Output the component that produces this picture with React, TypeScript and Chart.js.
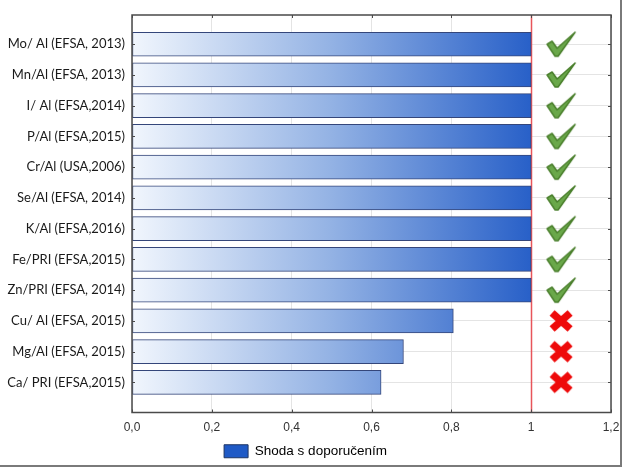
import React, { useEffect, useRef } from "react";
import { Chart, registerables } from "chart.js";

Chart.register(...registerables);

const categories = [
  "Mo/ Al (EFSA, 2013)",
  "Mn/Al (EFSA, 2013)",
  "I/ Al (EFSA,2014)",
  "P/Al (EFSA,2015)",
  "Cr/Al (USA,2006)",
  "Se/Al (EFSA, 2014)",
  "K/Al (EFSA,2016)",
  "Fe/PRI (EFSA,2015)",
  "Zn/PRI (EFSA, 2014)",
  "Cu/ Al (EFSA, 2015)",
  "Mg/Al (EFSA, 2015)",
  "Ca/ PRI (EFSA,2015)",
];
const values = [1, 1, 1, 1, 1, 1, 1, 1, 1, 0.805, 0.68, 0.624];
const statuses = ["ok", "ok", "ok", "ok", "ok", "ok", "ok", "ok", "ok", "no", "no", "no"];
const xTickLabels = ["0,0", "0,2", "0,4", "0,6", "0,8", "1", "1,2"];
const legendLabel = "Shoda s doporučením";
const referenceValue = 1;
const markValue = 1.075;

function makeCheck(): HTMLCanvasElement {
  const c = document.createElement("canvas");
  c.width = 34;
  c.height = 28;
  const g = c.getContext("2d")!;
  g.lineJoin = "round";
  const shape = () => {
    g.beginPath();
    g.moveTo(3, 14);
    g.lineTo(8, 11);
    g.lineTo(13, 18);
    g.lineTo(31, 2);
    g.lineTo(14, 26);
    g.lineTo(11, 26);
    g.closePath();
  };
  shape();
  g.fillStyle = "#6aa84a";
  g.fill();
  g.strokeStyle = "#4a7f2c";
  g.lineWidth = 1.5;
  g.stroke();
  return c;
}

function makeCross(): HTMLCanvasElement {
  const c = document.createElement("canvas");
  c.width = 26;
  c.height = 24;
  const g = c.getContext("2d")!;
  g.lineCap = "butt";
  g.strokeStyle = "#ee0a0a";
  g.lineWidth = 7.5;
  g.beginPath();
  g.moveTo(4, 4);
  g.lineTo(22, 20);
  g.moveTo(22, 4);
  g.lineTo(4, 20);
  g.stroke();
  return c;
}

const framePlugin = {
  id: "framePlugin",
  beforeDatasetsDraw(chart: any) {
    const { ctx, chartArea, scales } = chart;
    const x = Math.round(scales.x.getPixelForValue(referenceValue)) + 0.5;
    ctx.save();
    ctx.strokeStyle = "#e8555a";
    ctx.lineWidth = 1.5;
    ctx.beginPath();
    ctx.moveTo(x, chartArea.top);
    ctx.lineTo(x, chartArea.bottom);
    ctx.stroke();
    ctx.restore();
  },
  afterDraw(chart: any) {
    const { ctx, chartArea, scales } = chart;
    const { left, right, top, bottom } = chartArea;
    ctx.save();
    ctx.strokeStyle = "#4a4a4a";
    ctx.lineWidth = 1.5;
    ctx.strokeRect(left, top, right - left, bottom - top);
    ctx.lineWidth = 1;
    ctx.beginPath();
    scales.x.ticks.forEach((t: any) => {
      const px = Math.round(scales.x.getPixelForValue(t.value)) + 0.5;
      ctx.moveTo(px, top);
      ctx.lineTo(px, top + 3);
      ctx.moveTo(px, bottom);
      ctx.lineTo(px, bottom - 3);
    });
    scales.y.ticks.forEach((t: any) => {
      const py = Math.round(scales.y.getPixelForValue(t.value)) + 0.5;
      ctx.moveTo(left, py);
      ctx.lineTo(left + 3, py);
      ctx.moveTo(right, py);
      ctx.lineTo(right - 3, py);
    });
    ctx.stroke();
    ctx.fillStyle = "#7a7a7a";
    ctx.fillRect(620, 0, 2, 467);
    ctx.fillRect(0, 465, 622, 2);
    ctx.restore();
  },
};

export default function App() {
  const ref = useRef<HTMLCanvasElement | null>(null);
  useEffect(() => {
    const check = makeCheck();
    const cross = makeCross();
    const chart = new Chart(ref.current!, {
      type: "bar",
      data: {
        datasets: [
          {
            type: "bar",
            label: legendLabel,
            data: values.map((v, i) => ({ x: v, y: i })),
            barThickness: 24,
            borderWidth: 1,
            borderColor: "#34467a",
            borderSkipped: false,
            backgroundColor: (ctx: any) => {
              const chart = ctx.chart;
              const { chartArea, scales } = chart;
              if (!chartArea) return "#2a62c8";
              const x0 = scales.x.getPixelForValue(0);
              const x1 = scales.x.getPixelForValue(referenceValue);
              const g = chart.ctx.createLinearGradient(x0, 0, x1, 0);
              g.addColorStop(0, "#f1f6fd");
              g.addColorStop(0.5, "#93b2e4");
              g.addColorStop(1, "#2860c8");
              return g;
            },
          } as any,
          {
            type: "scatter",
            label: "status",
            data: statuses.map((_, i) => ({ x: markValue, y: i })),
            pointStyle: statuses.map((s) => (s === "ok" ? check : cross)),
            pointRadius: 12,
          } as any,
        ],
      },
      options: {
        animation: false,
        responsive: false,
        indexAxis: "y",
        layout: { padding: { top: 15, left: 0, right: 14, bottom: 0 } },
        scales: {
          x: {
            type: "linear",
            min: 0,
            max: 1.2,
            offset: false,
            border: { display: false },
            grid: { color: "#e4e4e4", drawTicks: false, offset: false },
            ticks: {
              stepSize: 0.2,
              padding: 8,
              color: "#333",
              font: { family: "Liberation Sans", size: 12 },
              callback: (v: any) => xTickLabels[Math.round(Number(v) / 0.2)],
            },
            afterFit: (s: any) => {
              s.height = 24;
              s.paddingLeft = 0;
              s.paddingRight = 0;
            },
          },
          y: {
            type: "linear",
            reverse: true,
            min: -0.95,
            max: 11.98,
            offset: false,
            border: { display: false },
            grid: { color: "#e4e4e4", drawTicks: false, offset: false },
            afterBuildTicks: (s: any) => {
              s.ticks = categories.map((_, i) => ({ value: i }));
            },
            ticks: {
              padding: 7,
              color: "#1a1a1a",
              font: { family: "Lato", size: 13 },
              callback: (v: any) => categories[Math.round(Number(v))],
            },
            afterFit: (s: any) => {
              s.width = 132;
              s.paddingTop = 0;
              s.paddingBottom = 0;
            },
          },
        },
        plugins: {
          tooltip: { enabled: false },
          legend: {
            position: "bottom",
            labels: {
              boxWidth: 24,
              boxHeight: 13,
              padding: 8,
              color: "#222",
              font: { family: "Liberation Sans", size: 13.5 },
              generateLabels: () => [
                {
                  text: legendLabel,
                  fillStyle: "#1f5ac6",
                  strokeStyle: "#1e3563",
                  lineWidth: 1,
                  datasetIndex: 0,
                  hidden: false,
                } as any,
              ],
            },
          },
        },
      } as any,
      plugins: [framePlugin],
    });
    return () => chart.destroy();
  }, []);
  return (
    <div style={{ position: "absolute", left: 0, top: 0, width: 625, height: 468, background: "#fff" }}>
      <canvas ref={ref} width={625} height={468} style={{ display: "block" }} />
    </div>
  );
}
